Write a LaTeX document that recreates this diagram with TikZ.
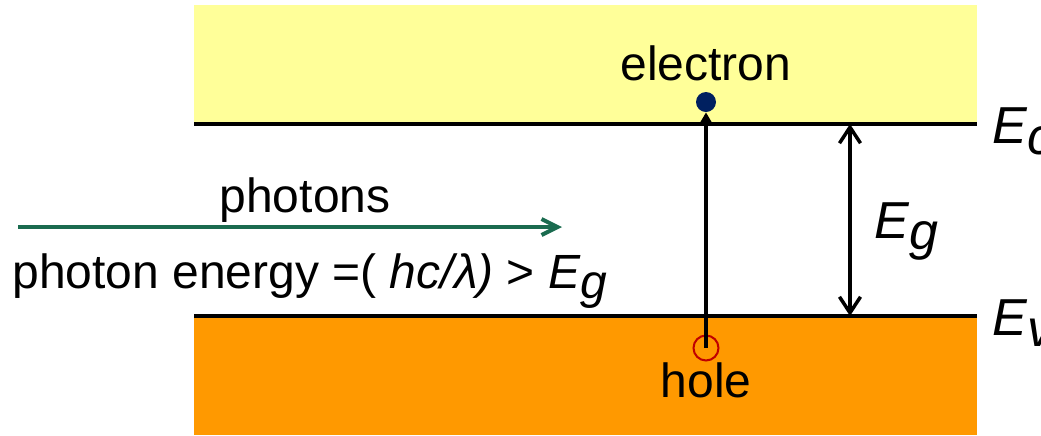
\documentclass[tikz,border=0pt]{standalone}
\usepackage{fontspec}
\setmainfont{Liberation Sans}
\usepackage{tikz}
\usetikzlibrary{arrows.meta}
\definecolor{bandyellow}{HTML}{FFFF99}
\definecolor{bandorange}{HTML}{FF9900}
\definecolor{photongreen}{HTML}{1A6B4F}
\definecolor{electronblue}{HTML}{002060}
\definecolor{holered}{HTML}{C00000}
\newcommand{\Esub}[1]{\textit{E\raisebox{-0.22em}{#1}}}

\begin{document}
\begin{tikzpicture}[x=0.5pt,y=-0.5pt,
  lbl/.style={font=\fontsize{24}{28}\selectfont,inner sep=0pt,anchor=base},
  elbl/.style={font=\fontsize{26}{30}\selectfont,inner sep=0pt,anchor=base west}]
  \useasboundingbox (0,0) rectangle (1041,435);
  % bands
  \fill[bandyellow] (194,5) rectangle (977,124);
  \fill[bandorange] (194,316) rectangle (977,435);
  \draw[line width=2pt] (194,124) -- (977,124);
  \draw[line width=2pt] (194,316) -- (977,316);
  % carriers
  \node[circle,fill=electronblue,inner sep=0pt,minimum size=10pt] (el) at (706,102) {};
  \node[circle,draw=holered,line width=1pt,inner sep=0pt,minimum size=12.5pt] (ho) at (706,348) {};
  \draw[line width=1.75pt,-{Triangle[length=5pt,width=5.5pt]}] (ho.center) -- (el.south);
  % gap
  \coordinate (ectop) at (850,124);
  \coordinate (evbot) at (850,316);
  \draw[line width=1.75pt,{Straight Barb[length=8pt,width=10.5pt]}-{Straight Barb[length=8pt,width=10.5pt]}] (ectop) -- (evbot);
  % incoming light
  \coordinate (phstart) at (18,227);
  \coordinate (phend) at (562,227);
  \draw[photongreen,line width=2pt,-{Straight Barb[length=8pt,width=8pt]}] (phstart) -- (phend);
  % labels
  \node[lbl] (elabel) at (706,80) {electron};
  \node[lbl] (hlabel) at (706,397) {hole};
  \node[lbl] (phlabel) at (305,212) {photons};
  \node[lbl,anchor=base west] (enlabel) at (12,288) {photon energy =( \textit{hc/λ)} > \Esub{g}};
  \node[elbl] (eglabel) at (874,238) {\Esub{g}};
  \node[elbl] (eclabel) at (992,143) {\Esub{c}};
  \node[elbl] (evlabel) at (992,335) {\Esub{v}};
\end{tikzpicture}
\end{document}
